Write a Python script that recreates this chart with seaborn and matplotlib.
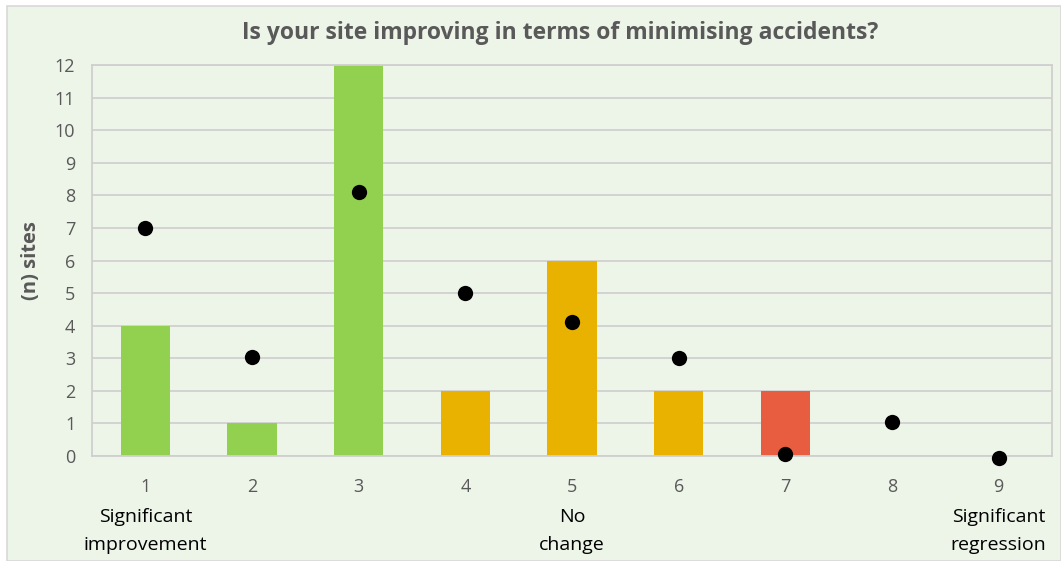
import matplotlib
matplotlib.use("Agg")
import matplotlib.pyplot as plt
from matplotlib.patches import Rectangle
import matplotlib.transforms as mtransforms
import seaborn as sns
import pandas as pd

# Survey data
categories = ["1", "2", "3", "4", "5", "6", "7", "8", "9"]
site_counts = [4, 1, 12, 2, 6, 2, 2, 0, 0]
previous_counts = [7, 3.05, 8.1, 5, 4.1, 3, 0.05, 1.05, -0.05]
bar_colors = ["#92D050", "#92D050", "#92D050", "#E9B200", "#E9B200", "#E9B200",
              "#E85C3F", "#E85C3F", "#E85C3F"]
scale_notes = {0: "Significant\nimprovement", 4: "No\nchange", 8: "Significant\nregression"}
y_ticks = list(range(0, 13))

title = "Is your site improving in terms of minimising accidents?"
y_label = "(n) sites"

bg = "#EDF4E8"
sns.set_theme(style="white")
plt.rcParams["font.family"] = ["Open Sans", "DejaVu Sans"]

W, H = 1061, 561
fig = plt.figure(figsize=(W / 100, H / 100), dpi=100, facecolor="white")
fig.patches.append(Rectangle((7 / W, 0), 1 - 7 / W, 1 - 6 / H, transform=fig.transFigure,
                             facecolor=bg, edgecolor="#D9D9D9", linewidth=1.2, zorder=-10))

ax = fig.add_axes([92 / W, 1 - 456 / H, (1052 - 92) / W, (456 - 65) / H])
ax.set_zorder(5)
ax.set_facecolor(bg)

df = pd.DataFrame({"cat": categories, "n": site_counts, "prev": previous_counts})

sns.barplot(data=df, x="cat", y="n", hue="cat", palette=bar_colors, order=categories,
            hue_order=categories, legend=False, width=0.46, saturation=1, ax=ax,
            linewidth=0, zorder=2)
sns.stripplot(data=df, x="cat", y="prev", order=categories, jitter=False, color="black",
              size=11, linewidth=0, ax=ax, zorder=4)
for coll in ax.collections:
    coll.set_clip_on(False)

ax.set_xlim(-0.5, 8.5)
ax.set_ylim(0, 12)
ax.set_yticks(y_ticks)
ax.yaxis.grid(True, color="#D0D0D0", linewidth=1.3, zorder=0)
ax.set_axisbelow(True)
for s in ax.spines.values():
    s.set_color("#CFCFCF")
    s.set_linewidth(1.3)

ax.tick_params(axis="y", labelsize=13, labelcolor="#595959", length=0, pad=12)
ax.tick_params(axis="x", labelsize=13, labelcolor="#595959", length=0, pad=16)
ax.set_xlabel("")
ax.set_ylabel(y_label, fontsize=14.5, fontweight="bold", color="#595959", labelpad=10)

trans = mtransforms.blended_transform_factory(ax.transData, ax.transAxes)
for i, note in scale_notes.items():
    ax.text(i, -0.132, note, transform=trans, ha="center", va="top", fontsize=14,
            color="black", linespacing=1.72)

fig.text(560 / W, 1 - 33 / H, title, ha="center", va="center", fontsize=16.5,
         fontweight="bold", color="#595959",
         family=["Liberation Sans Narrow", "Open Sans", "DejaVu Sans"])

fig.savefig("out.png", dpi=100, facecolor="white")
